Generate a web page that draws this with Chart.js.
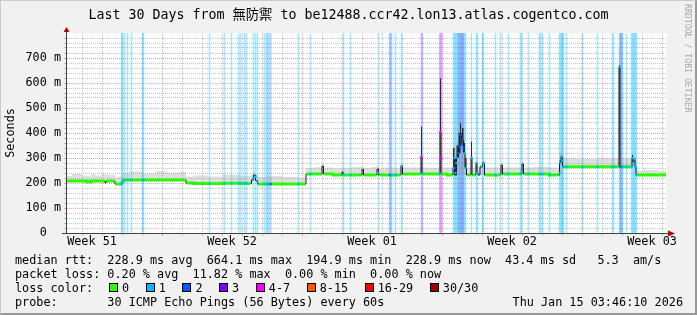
<!DOCTYPE html>
<html>
<head>
<meta charset="utf-8">
<script src="https://cdn.jsdelivr.net/npm/chart.js@4.4.1/dist/chart.umd.min.js"></script>
<style>
html,body{margin:0;padding:0;background:#f1f1f1}
#wrap{position:relative;width:697px;height:315px;background:#f1f1f1;overflow:hidden}
#wrap canvas{position:absolute;left:0;top:0}
#frame{position:absolute;left:0;top:0;width:697px;height:315px;box-sizing:border-box;border-top:1px solid #cbcbcb;border-left:1px solid #cbcbcb;border-right:2px solid #999;border-bottom:2px solid #999;pointer-events:none}
.t{position:absolute;font-family:'DejaVu Sans Mono',monospace;font-size:11.8px;line-height:14px;white-space:pre;color:#000}
.box{position:absolute;width:7px;height:7px;border:1px solid #000}
#title{position:absolute;left:0;top:6.9px;width:697px;text-align:center;font-family:'DejaVu Sans Mono','Noto Sans CJK TC',monospace;font-size:13.3px;line-height:16px;white-space:pre;color:#000}
#wm{position:absolute;left:683px;top:4px;font-family:'DejaVu Sans Mono',monospace;font-size:8.2px;line-height:10px;color:#a8a8a8;writing-mode:vertical-rl;white-space:pre}
</style>
</head>
<body>
<div id="wrap">
<canvas id="c" width="697" height="315"></canvas>
<div id="title"></div>
<div id="wm">RRDTOOL / TOBI OETIKER</div>
<div class="t" style="left:15px;top:252.5px">median rtt:  228.9 ms avg  664.1 ms max  194.9 ms min  228.9 ms now  43.4 ms sd   5.3  am/s</div>
<div class="t" style="left:15px;top:266.5px">packet loss: 0.20 % avg  11.82 % max  0.00 % min  0.00 % now</div>
<div class="t" style="left:15px;top:280.5px">loss color:</div>
<div id="lossLegend"></div>
<div class="t" style="left:15px;top:294.5px">probe:       30 ICMP Echo Pings (56 Bytes) every 60s</div>
<div class="t" style="right:14px;top:294.5px">Thu Jan 15 03:46:10 2026</div>
<div id="frame"></div>
</div>
<script>
// ---- data (x in days since start of the 30-day window, y in ms) ----
const timeDays = [
  0.000, 0.475, 0.975, 1.025, 1.175, 1.225, 1.575, 1.875, 1.925, 1.975,
  2.375, 2.425, 2.725, 2.775, 2.825, 3.425, 4.175, 4.675, 5.275, 5.925,
  5.975, 6.675, 7.425, 8.175, 9.175, 9.275, 9.375, 9.475, 9.575, 10.425,
  11.175, 11.925, 11.975, 12.725, 12.775, 12.875, 13.725, 13.775, 13.825, 14.725,
  14.775, 14.875, 15.475, 15.525, 15.625, 16.175, 16.675, 16.725, 16.825, 17.675,
  17.725, 17.775, 18.625, 18.675, 18.725, 19.275, 19.325, 19.425, 19.525, 19.625,
  19.675, 19.725, 19.775, 19.875, 19.925, 20.025, 20.175, 20.225, 20.275, 20.425,
  20.475, 20.525, 20.575, 20.725, 20.825, 20.925, 21.675, 21.725, 21.825, 22.725,
  22.775, 22.875, 23.675, 24.575, 24.675, 24.725, 24.825, 26.175, 26.925, 27.575,
  27.625, 27.675, 28.225, 28.275, 28.325, 28.375, 28.425, 28.475, 29.175, 29.950
];
const medianMs = [
  208, 208, 208, 204, 204, 208, 208, 208, 200, 208,
  208, 196, 196, 206, 212, 212, 212, 212, 212, 212,
  200, 198, 198, 199, 198, 212, 232, 210, 196, 196,
  196, 196, 236, 236, 268, 236, 232, 244, 232, 232,
  255, 232, 232, 256, 232, 232, 232, 268, 236, 236,
  304, 236, 236, 404, 236, 232, 260, 232, 300, 320,
  392, 352, 372, 320, 260, 232, 232, 300, 232, 232,
  280, 240, 232, 265, 280, 232, 232, 272, 236, 236,
  276, 236, 236, 232, 280, 305, 265, 265, 265, 265,
  664, 265, 265, 300, 280, 295, 265, 232, 232, 232
];
const smokeHighMs = [
  228, 236, 230, 228, 226, 236, 230, 238, 232, 234,
  232, 222, 226, 230, 240, 246, 238, 248, 242, 244,
  226, 230, 226, 232, 228, 234, 244, 234, 224, 228,
  224, 222, 260, 264, 276, 262, 258, 262, 260, 264,
  266, 260, 264, 266, 258, 262, 260, 276, 262, 262,
  430, 262, 260, 625, 262, 262, 350, 310, 360, 430,
  495, 430, 460, 380, 310, 262, 262, 385, 262, 262,
  290, 262, 262, 275, 290, 262, 262, 282, 262, 262,
  286, 262, 264, 262, 320, 340, 300, 296, 300, 300,
  745, 300, 300, 320, 305, 310, 300, 250, 252, 248
];
const smokeLowMs = [
  204, 204, 204, 200, 200, 204, 204, 204, 196, 204,
  204, 192, 192, 200, 208, 208, 208, 208, 208, 208,
  196, 194, 194, 195, 194, 206, 220, 204, 192, 192,
  192, 192, 232, 232, 240, 232, 228, 232, 228, 228,
  232, 228, 228, 232, 228, 228, 228, 236, 232, 232,
  236, 232, 232, 236, 232, 228, 232, 228, 232, 232,
  240, 236, 236, 232, 232, 228, 228, 232, 228, 228,
  232, 232, 228, 232, 232, 228, 228, 236, 232, 232,
  236, 232, 232, 228, 232, 240, 260, 260, 260, 260,
  265, 260, 260, 265, 265, 265, 260, 228, 228, 228
];
const denseHighMs = [
  208, 208, 208, 204, 204, 208, 208, 208, 200, 208,
  208, 196, 196, 206, 212, 212, 212, 212, 212, 212,
  200, 198, 198, 199, 198, 212, 232, 210, 196, 196,
  196, 196, 236, 236, 268, 236, 232, 244, 232, 232,
  255, 232, 232, 256, 232, 232, 232, 268, 236, 236,
  425, 236, 236, 619, 236, 232, 340, 300, 350, 400,
  440, 400, 420, 360, 300, 232, 232, 365, 232, 232,
  280, 240, 232, 265, 280, 232, 232, 272, 236, 236,
  276, 236, 236, 232, 290, 305, 265, 265, 265, 265,
  672, 265, 265, 312, 280, 295, 265, 232, 232, 232
];
const lossDays = [
  2.725, 2.775, 2.875, 3.025, 3.225, 3.775, 3.825, 7.125, 7.875, 8.225,
  8.575, 8.675, 8.875, 8.975, 9.325, 9.425, 9.525, 9.875, 9.975, 10.025,
  10.075, 10.175, 11.575, 12.175, 13.825, 14.175, 15.575, 16.125, 16.175, 16.225,
  16.425, 16.725, 17.725, 17.775, 18.625, 18.675, 18.725, 19.325, 19.375, 19.425,
  19.475, 19.525, 19.575, 19.625, 19.675, 19.725, 19.775, 19.825, 19.875, 19.925,
  20.225, 20.475, 20.525, 20.775, 20.825, 21.425, 21.675, 22.075, 22.675, 22.725,
  23.075, 23.625, 23.675, 23.775, 24.125, 24.625, 24.675, 24.725, 24.775, 24.825,
  24.975, 25.775, 26.525, 27.275, 27.325, 27.625, 27.675, 27.725, 27.775, 27.975,
  28.225, 28.275, 28.325, 28.375, 28.425, 28.475
];
const lossCounts = [
  1, 1, 1, 1, 1, 1, 1, 1, 1, 1,
  1, 1, 1, 1, 1, 1, 1, 1, 1, 1,
  1, 2, 1, 1, 1, 1, 1, 1, 3, 1,
  1, 1, 5, 1, 1, 5, 5, 1, 1, 1,
  1, 1, 2, 2, 2, 2, 2, 2, 1, 1,
  1, 1, 1, 1, 1, 1, 1, 1, 1, 1,
  1, 1, 1, 1, 1, 1, 1, 1, 1, 1,
  1, 1, 1, 1, 1, 1, 2, 2, 1, 1,
  1, 1, 1, 1, 1, 1
];
const lossMedianMs = [
  196, 206, 212, 212, 212, 212, 212, 198, 198, 199,
  199, 199, 199, 199, 220, 225, 204, 196, 196, 196,
  196, 196, 196, 236, 232, 232, 240, 232, 232, 232,
  232, 268, 304, 240, 236, 404, 300, 260, 300, 240,
  280, 300, 320, 345, 392, 352, 372, 340, 320, 260,
  300, 280, 240, 265, 280, 232, 236, 236, 236, 245,
  236, 236, 236, 236, 232, 240, 280, 305, 290, 265,
  265, 265, 265, 265, 265, 664, 265, 265, 265, 265,
  265, 300, 280, 295, 265, 232
];
const weekLabelDays = [1.25, 8.25, 15.25, 22.25, 29.25];
const weekLabels = ['Week 51', 'Week 52', 'Week 01', 'Week 02', 'Week 03'];
const weekLineDays = [4.75, 11.75, 18.75, 25.75];
const firstDayLine = 0.75;
const lossLegendLabels = ['0', '1', '2', '3', '4-7', '8-15', '16-29', '30/30'];
const lossLegendColors = ['#26ff00', '#00b8ff', '#0059ff', '#7e00ff', '#ff00ff', '#ff5500', '#ff0000', '#a00000'];
const titleText = 'Last 30 Days from 無防禦 to be12488.ccr42.lon13.atlas.cogentco.com';

// ---- styling helpers ----
const MONO = "'DejaVu Sans Mono', 'Noto Sans CJK TC', monospace";
const GRID = 'rgba(150,150,150,0.55)';
const MGRID = 'rgba(235,90,90,0.55)';
const CLEAR = 'rgba(0,0,0,0)';
function lossLineColor(n) {
  if (n <= 0) return '#26ff00';
  if (n === 1) return '#00b8ff';
  if (n === 2) return '#0059ff';
  if (n === 3) return '#7e00ff';
  if (n <= 7) return '#ff00ff';
  if (n <= 15) return '#ff5500';
  if (n <= 29) return '#ff0000';
  return '#a00000';
}
function lossShade(n) {
  if (n === 1) return 'rgba(0,184,255,0.33)';
  if (n === 2) return 'rgba(0,89,255,0.33)';
  if (n === 3) return 'rgba(126,0,255,0.30)';
  if (n <= 7) return 'rgba(255,0,255,0.33)';
  if (n <= 15) return 'rgba(255,85,0,0.33)';
  if (n <= 29) return 'rgba(255,0,0,0.33)';
  return 'rgba(160,0,0,0.33)';
}
const near = (a, b) => Math.abs(a - b) < 1e-6;
const isWeekLabel = v => weekLabelDays.some(d => near(d, v));
const isWeekLine = v => weekLineDays.some(d => near(d, v));

const xTickValues = [];
for (let k = 0; k < 30; k++) xTickValues.push(firstDayLine + k);
weekLabelDays.forEach(d => xTickValues.push(d));
xTickValues.sort((a, b) => a - b);

const pts = arr => timeDays.map((d, i) => ({x: d, y: arr[i]}));

document.getElementById('title').textContent = titleText;

// legend boxes (HTML text)
(function () {
  const host = document.getElementById('lossLegend');
  let left = 109;
  lossLegendLabels.forEach((lab, i) => {
    const b = document.createElement('div');
    b.className = 'box';
    b.style.left = left + 'px';
    b.style.top = '282.5px';
    b.style.background = lossLegendColors[i];
    host.appendChild(b);
    const t = document.createElement('div');
    t.className = 't';
    t.style.left = (left + 13) + 'px';
    t.style.top = '280.5px';
    t.textContent = lab;
    host.appendChild(t);
    left += 13 + lab.length * 7.1 + 16.6;
  });
})();

const rrdFrame = {
  id: 'rrdFrame',
  beforeDraw(chart) {
    const {ctx, chartArea: a} = chart;
    ctx.save();
    ctx.fillStyle = '#ffffff';
    ctx.fillRect(a.left, a.top, a.right - a.left, a.bottom - a.top);
    ctx.restore();
  },
  afterDatasetsDraw(chart) {
    const {ctx, chartArea: a} = chart;
    const x0 = Math.round(a.left) - 0.5;
    const y0 = Math.round(a.bottom) + 0.5;
    ctx.save();
    ctx.strokeStyle = '#404040';
    ctx.lineWidth = 1;
    ctx.beginPath();
    ctx.moveTo(x0, y0);
    ctx.lineTo(x0, a.top - 2);
    ctx.moveTo(a.left - 5, y0);
    ctx.lineTo(a.right + 2, y0);
    ctx.stroke();
    ctx.fillStyle = '#ad0707';
    ctx.beginPath();
    ctx.moveTo(x0 - 3, a.top - 1);
    ctx.lineTo(x0 + 3, a.top - 1);
    ctx.lineTo(x0, a.top - 6);
    ctx.closePath();
    ctx.fill();
    ctx.beginPath();
    ctx.moveTo(a.right + 1, y0 - 3);
    ctx.lineTo(a.right + 1, y0 + 3);
    ctx.lineTo(a.right + 8, y0);
    ctx.closePath();
    ctx.fill();
    ctx.restore();
  }
};

new Chart(document.getElementById('c'), {
  type: 'bar',
  data: {
    datasets: [
      { // 0: loss shading
        type: 'bar',
        data: lossDays.map(d => ({x: d, y: [0, 800]})),
        backgroundColor: lossCounts.map(lossShade),
        barThickness: 1,
        grouped: false,
        order: 10
      },
      { // 1: smoke lower edge
        type: 'line', data: pts(smokeLowMs), borderWidth: 0, pointRadius: 0,
        stepped: 'middle', fill: false, order: 9
      },
      { // 2: smoke upper edge
        type: 'line', data: pts(smokeHighMs), borderWidth: 0, pointRadius: 0,
        stepped: 'middle', fill: 1, backgroundColor: 'rgba(160,160,160,0.34)', order: 8
      },
      { // 3: dark median line
        type: 'line', data: pts(medianMs), borderColor: '#1e1e1e', borderWidth: 1,
        pointRadius: 0, stepped: 'middle', fill: false, order: 6
      },
      { // 4: dense smoke
        type: 'line', data: pts(denseHighMs), borderWidth: 0, pointRadius: 0,
        stepped: 'middle', fill: 3, backgroundColor: '#2c2c2c', order: 7
      },
      { // 5: median, loss-free colour
        type: 'line', data: pts(medianMs), borderColor: '#26ff00', borderWidth: 3,
        pointRadius: 0, stepped: 'middle', fill: false, order: 4,
        segment: {
          borderColor: c => Math.abs(c.p1.parsed.y - c.p0.parsed.y) > 6 ? CLEAR : undefined
        }
      },
      { // 6: median coloured by loss
        type: 'line', data: lossDays.map((d, i) => ({x: d, y: lossMedianMs[i]})),
        showLine: false, pointStyle: 'rect', pointRadius: 1.6, pointBorderWidth: 0,
        pointBackgroundColor: lossCounts.map(lossLineColor), order: 1
      }
    ]
  },
  options: {
    responsive: false,
    animation: false,
    events: [],
    layout: {padding: {left: 0, right: 30, top: 33, bottom: 0}},
    plugins: {
      legend: {display: false},
      tooltip: {enabled: false},
      title: {display: false}
    },
    scales: {
      x: {
        type: 'linear', min: 0, max: 30, offset: false,
        afterFit: s => { s.height = 82; },
        afterBuildTicks: s => { s.ticks = xTickValues.map(v => ({value: v})); },
        ticks: {
          autoSkip: false, maxRotation: 0, minRotation: 0, padding: -1, color: '#000',
          font: {family: MONO, size: 11.8},
          callback: v => { const i = weekLabelDays.findIndex(d => near(d, v)); return i >= 0 ? weekLabels[i] : ''; }
        },
        grid: {
          offset: false, lineWidth: 1, drawTicks: true, tickLength: 3,
          color: c => { const v = c.tick ? c.tick.value : null; if (v === null) return GRID; if (isWeekLabel(v)) return CLEAR; return isWeekLine(v) ? MGRID : GRID; }
        },
        border: {display: false, dash: [1, 1]}
      },
      y: {
        min: 0, max: 800,
        afterFit: s => { s.width = 67; },
        ticks: {
          stepSize: 20, autoSkip: false, padding: 3, color: '#000',
          font: {family: MONO, size: 11.8},
          callback: v => { const r = Math.round(v); if (r % 100 !== 0 || r === 800) return ''; return r === 0 ? '0  ' : r + ' m'; }
        },
        grid: {
          lineWidth: 1, drawTicks: true, tickLength: 3,
          color: c => { const v = c.tick ? Math.round(c.tick.value) : null; if (v === null) return GRID; if (v === 800) return CLEAR; return v % 100 === 0 ? MGRID : GRID; }
        },
        border: {display: false, dash: [1, 1]},
        title: {
          display: true, text: 'Seconds', color: '#000',
          font: {family: MONO, size: 11.8, lineHeight: 1.2},
          padding: {top: 3.5, bottom: 0}
        }
      }
    }
  },
  plugins: [rrdFrame]
});
</script>
</body>
</html>
